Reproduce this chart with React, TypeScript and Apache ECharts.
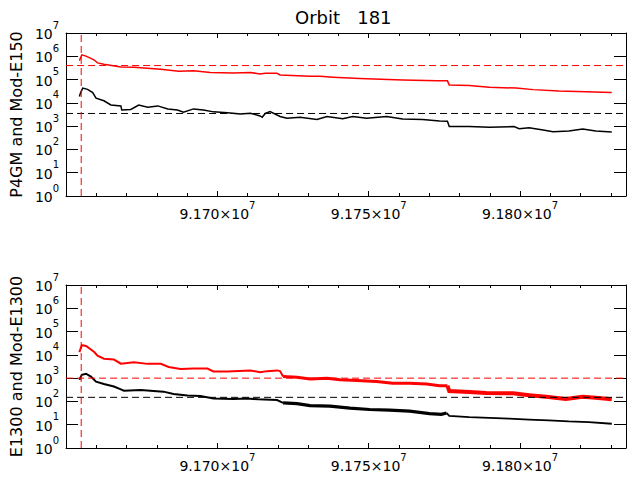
import { useEffect, useRef } from 'react'
import * as echarts from 'echarts'

const FONT = 'DejaVu Sans'
const X_MIN = 91650000
const X_MAX = 91835000
const X_MAJOR = 50000
const X_MINOR = 10000
const Y_MIN = 1
const Y_MAX = 1e7

const titleText = 'Orbit   181'
const panelNames = ['P4GM and Mod-E150', 'E1300 and Mod-E1300']

// upper panel, red trace (Mod-E150)
const topRedTime = [
  91654400, 91655200, 91656600, 91658200, 91659300, 91660400, 91662500, 91668100,
  91672400, 91681300, 91687200, 91692100, 91697700, 91705300, 91710900, 91714100,
  91715800, 91719700, 91720700, 91730600, 91733900, 91738200, 91747000, 91761200,
  91772700, 91776000, 91776600, 91783200, 91789800, 91798700, 91804300, 91812800,
  91821700, 91830300,
]
const topRedVal = [
  6.5e5, 1.15e6, 1.02e6, 8.1e5, 6.9e5, 5.2e5, 4.6e5, 3.5e5,
  3.4e5, 2.8e5, 2.3e5, 2.4e5, 2.0e5, 1.9e5, 2.0e5, 1.74e5,
  1.86e5, 1.86e5, 1.58e5, 1.38e5, 1.38e5, 1.26e5, 1.1e5, 9.5e4,
  8.8e4, 8.8e4, 5.9e4, 5.5e4, 4.7e4, 4.3e4, 3.7e4, 3.2e4,
  3.0e4, 2.8e4,
]

// upper panel, black trace (P4GM)
const topBlackTime = [
  91654400, 91654700, 91655500, 91657100, 91658800, 91659900, 91662500, 91664800,
  91668100, 91668400, 91671400, 91674000, 91677000, 91680300, 91683600, 91686800,
  91688800, 91692100, 91695400, 91698700, 91703300, 91707600, 91710900, 91714100,
  91714800, 91715800, 91717400, 91720700, 91723000, 91727300, 91732900, 91736200,
  91741400, 91744700, 91749300, 91755900, 91761200, 91767800, 91773400, 91776000,
  91776600, 91783200, 91789800, 91798000, 91799700, 91803000, 91807600, 91810900,
  91816100, 91820700, 91825000, 91830300,
]
const topBlackVal = [
  1.86e4, 2.5e4, 4.3e4, 3.8e4, 2.75e4, 1.58e4, 1.23e4, 8.1e3,
  7.4e3, 4.9e3, 5.2e3, 8.1e3, 6.5e3, 7.4e3, 5.5e3, 4.9e3,
  4.0e3, 5.5e3, 4.9e3, 4.1e3, 3.8e3, 3.3e3, 3.6e3, 2.75e3,
  2.4e3, 3.5e3, 4.2e3, 2.6e3, 2.2e3, 2.4e3, 1.95e3, 2.6e3,
  2.1e3, 2.6e3, 2.2e3, 2.6e3, 2.05e3, 1.95e3, 1.66e3, 1.62e3,
  955, 955, 890, 955, 775, 850, 690, 575,
  615, 760, 615, 560,
]

// lower panel, red trace (Mod-E1300)
const botRedTime = [
  91654400, 91655200, 91656600, 91658200, 91659300, 91660400, 91662500, 91665800,
  91668100, 91672400, 91677000, 91681300, 91683900, 91687800, 91692100, 91696700,
  91698700, 91703300, 91710900, 91714100, 91716400, 91719700, 91720700, 91721700,
  91726300, 91730600, 91736200, 91740500, 91746100, 91752600, 91757900, 91763500,
  91769100, 91773400, 91776000, 91776600, 91783200, 91788800, 91797700, 91803000,
  91808600, 91815100, 91820700, 91825000, 91830300,
]
const botRedVal = [
  1.32e4, 2.6e4, 2.4e4, 1.7e4, 1.32e4, 9.3e3, 6.8e3, 6.3e3,
  4.2e3, 4.8e3, 4.1e3, 4.1e3, 3.0e3, 2.45e3, 2.6e3, 2.6e3,
  1.95e3, 1.95e3, 2.15e3, 1.8e3, 2.0e3, 2.15e3, 2.0e3, 1.17e3,
  1.1e3, 910, 1.0e3, 850, 795, 725, 600, 600,
  560, 470, 470, 280, 257, 229, 224, 186,
  158, 126, 158, 145, 123,
]

// lower panel, black trace (E1300)
const botBlackTime = [
  91654400, 91655200, 91656600, 91658200, 91659900, 91662500, 91665800, 91668100,
  91669100, 91674700, 91678900, 91682200, 91685500, 91690100, 91694400, 91698700,
  91705300, 91709900, 91713500, 91719700, 91721700, 91726300, 91730600, 91737200,
  91743800, 91750300, 91756900, 91763500, 91770100, 91774000, 91775700, 91776600,
  91783200, 91789800, 91796400, 91803000, 91809500, 91816100, 91822700, 91830300,
]
const botBlackVal = [
  850, 1.38e3, 1.55e3, 1.17e3, 710, 560, 435, 330,
  290, 310, 280, 263, 210, 178, 170, 135,
  126, 135, 123, 115, 87, 81, 66, 63,
  52, 45, 42, 38, 30, 28, 32, 24,
  21, 19.5, 18.2, 16.6, 15.5, 13.8, 12.9, 11,
]

// dashed reference levels
const topRedLevel = 4.0e5
const topBlackLevel = 3.5e3
const botRedLevel = 1.0e3
const botBlackLevel = 150
const eventTime = 91655000

const pairs = (t: number[], v: number[]) => t.map((x, i) => [x, v[i]])
const slice = (t: number[], v: number[], from: number, to: number) =>
  pairs(t, v).filter((p) => p[0] >= from && p[0] <= to)

const sup = {
  m: { fontFamily: FONT, fontSize: 14, color: '#000', lineHeight: 16, verticalAlign: 'bottom' },
  s: { fontFamily: FONT, fontSize: 10, color: '#000', lineHeight: 10, verticalAlign: 'bottom', padding: [0, 0, 11, 0] },
}

function xAxisFor(gridIndex: number, position: 'top' | 'bottom', major: boolean, labels: boolean) {
  return {
    gridIndex,
    type: 'value',
    position,
    min: X_MIN,
    max: X_MAX,
    interval: major ? X_MAJOR : X_MINOR,
    axisLine: { show: major, onZero: false, lineStyle: { color: '#000', width: 1 } },
    axisTick: { show: true, inside: true, length: major ? 5 : 3, lineStyle: { color: '#000', width: 1 } },
    axisLabel: labels
      ? {
          show: true,
          margin: 9,
          showMinLabel: false,
          showMaxLabel: false,
          formatter: (v: number) =>
            v % X_MAJOR === 0 && v > X_MIN && v < X_MAX ? `{m|${(v / 1e7).toFixed(3)}×10}{s|7}` : '',
          rich: sup,
        }
      : { show: false },
    splitLine: { show: false },
  }
}

function yAxisFor(gridIndex: number, position: 'left' | 'right', name?: string) {
  return {
    gridIndex,
    type: 'log',
    logBase: 10,
    position,
    min: Y_MIN,
    max: Y_MAX,
    splitNumber: 7,
    name,
    nameLocation: 'middle',
    nameGap: 38,
    nameTextStyle: { fontFamily: FONT, fontSize: 16, color: '#000' },
    axisLine: { show: true, onZero: false, lineStyle: { color: '#000', width: 1 } },
    axisTick: { show: true, inside: true, length: 12, lineStyle: { color: '#000', width: 1 } },
    axisLabel:
      position === 'left'
        ? {
            show: true,
            margin: 7,
            formatter: (v: number) => `{m|10}{s|${Math.round(Math.log10(v))}}`,
            rich: sup,
          }
        : { show: false },
    splitLine: { show: false },
    minorTick: { show: false },
  }
}

function lineSeries(
  data: number[][],
  xAxisIndex: number,
  yAxisIndex: number,
  color: string,
  width: number,
  z = 2,
  dashed = false,
) {
  return {
    type: 'line',
    xAxisIndex,
    yAxisIndex,
    data,
    symbol: 'none',
    showSymbol: false,
    silent: dashed,
    z,
    color,
    lineStyle: { color, width, join: 'miter', type: dashed ? [7, 4] : 'solid' },
    itemStyle: { color },
  }
}

// horizontal / vertical dashed guides spanning the panel
const hGuide = (level: number, x: number, y: number, color: string) =>
  lineSeries([[X_MIN, level], [X_MAX, level]], x, y, color, 1, 4, true)
const vGuide = (time: number, x: number, y: number, color: string) =>
  lineSeries([[time, Y_MIN], [time, Y_MAX]], x, y, color, 1, 4, true)

export default function App() {
  const ref = useRef<HTMLDivElement>(null)

  useEffect(() => {
    if (!ref.current) return
    const chart = echarts.init(ref.current, null, { renderer: 'svg' })

    const brk1 = 91721700
    const brk2 = 91776000

    const topSeries = [
      lineSeries(pairs(topBlackTime, topBlackVal), 0, 0, '#000000', 1.5),
      lineSeries(pairs(topRedTime, topRedVal), 0, 0, '#ff0000', 1.5, 3),
      hGuide(topBlackLevel, 0, 0, '#000000'),
      hGuide(topRedLevel, 0, 0, '#ff0000'),
      vGuide(eventTime, 0, 0, '#ff0000'),
    ]

    const bottomSeries = [
      lineSeries(slice(botBlackTime, botBlackVal, 0, brk1), 4, 2, '#000000', 2),
      lineSeries(slice(botBlackTime, botBlackVal, brk1, brk2), 4, 2, '#000000', 3.2),
      lineSeries(slice(botBlackTime, botBlackVal, brk2 - 1000, Infinity), 4, 2, '#000000', 1.8),
      lineSeries(slice(botRedTime, botRedVal, 0, brk1), 4, 2, '#ff0000', 2, 3),
      lineSeries(slice(botRedTime, botRedVal, brk1, brk2), 4, 2, '#ff0000', 3, 3),
      lineSeries(slice(botRedTime, botRedVal, brk2, Infinity), 4, 2, '#ff0000', 4, 3),
      hGuide(botBlackLevel, 4, 2, '#000000'),
      hGuide(botRedLevel, 4, 2, '#ff0000'),
      vGuide(eventTime, 4, 2, '#ff0000'),
    ]

    const option = {
      animation: false,
      backgroundColor: '#ffffff',
      title: {
        text: titleText,
        left: 295,
        top: 8,
        padding: 0,
        textStyle: { fontFamily: FONT, fontSize: 18, fontWeight: 'normal', color: '#000' },
      },
      grid: [
        { left: 65, top: 33, width: 561, height: 163, containLabel: false },
        { left: 65, top: 285, width: 561, height: 163, containLabel: false },
      ],
      xAxis: [
        xAxisFor(0, 'bottom', true, true),
        xAxisFor(0, 'bottom', false, false),
        xAxisFor(0, 'top', true, false),
        xAxisFor(0, 'top', false, false),
        xAxisFor(1, 'bottom', true, true),
        xAxisFor(1, 'bottom', false, false),
        xAxisFor(1, 'top', true, false),
        xAxisFor(1, 'top', false, false),
      ],
      yAxis: [
        yAxisFor(0, 'left', panelNames[0]),
        yAxisFor(0, 'right'),
        yAxisFor(1, 'left', panelNames[1]),
        yAxisFor(1, 'right'),
      ],
      series: [...topSeries, ...bottomSeries],
    }

    chart.setOption(option as echarts.EChartsOption)
    return () => chart.dispose()
  }, [])

  return <div ref={ref} style={{ position: 'absolute', left: 0, top: 0, width: 637, height: 480, background: '#fff' }} />
}
